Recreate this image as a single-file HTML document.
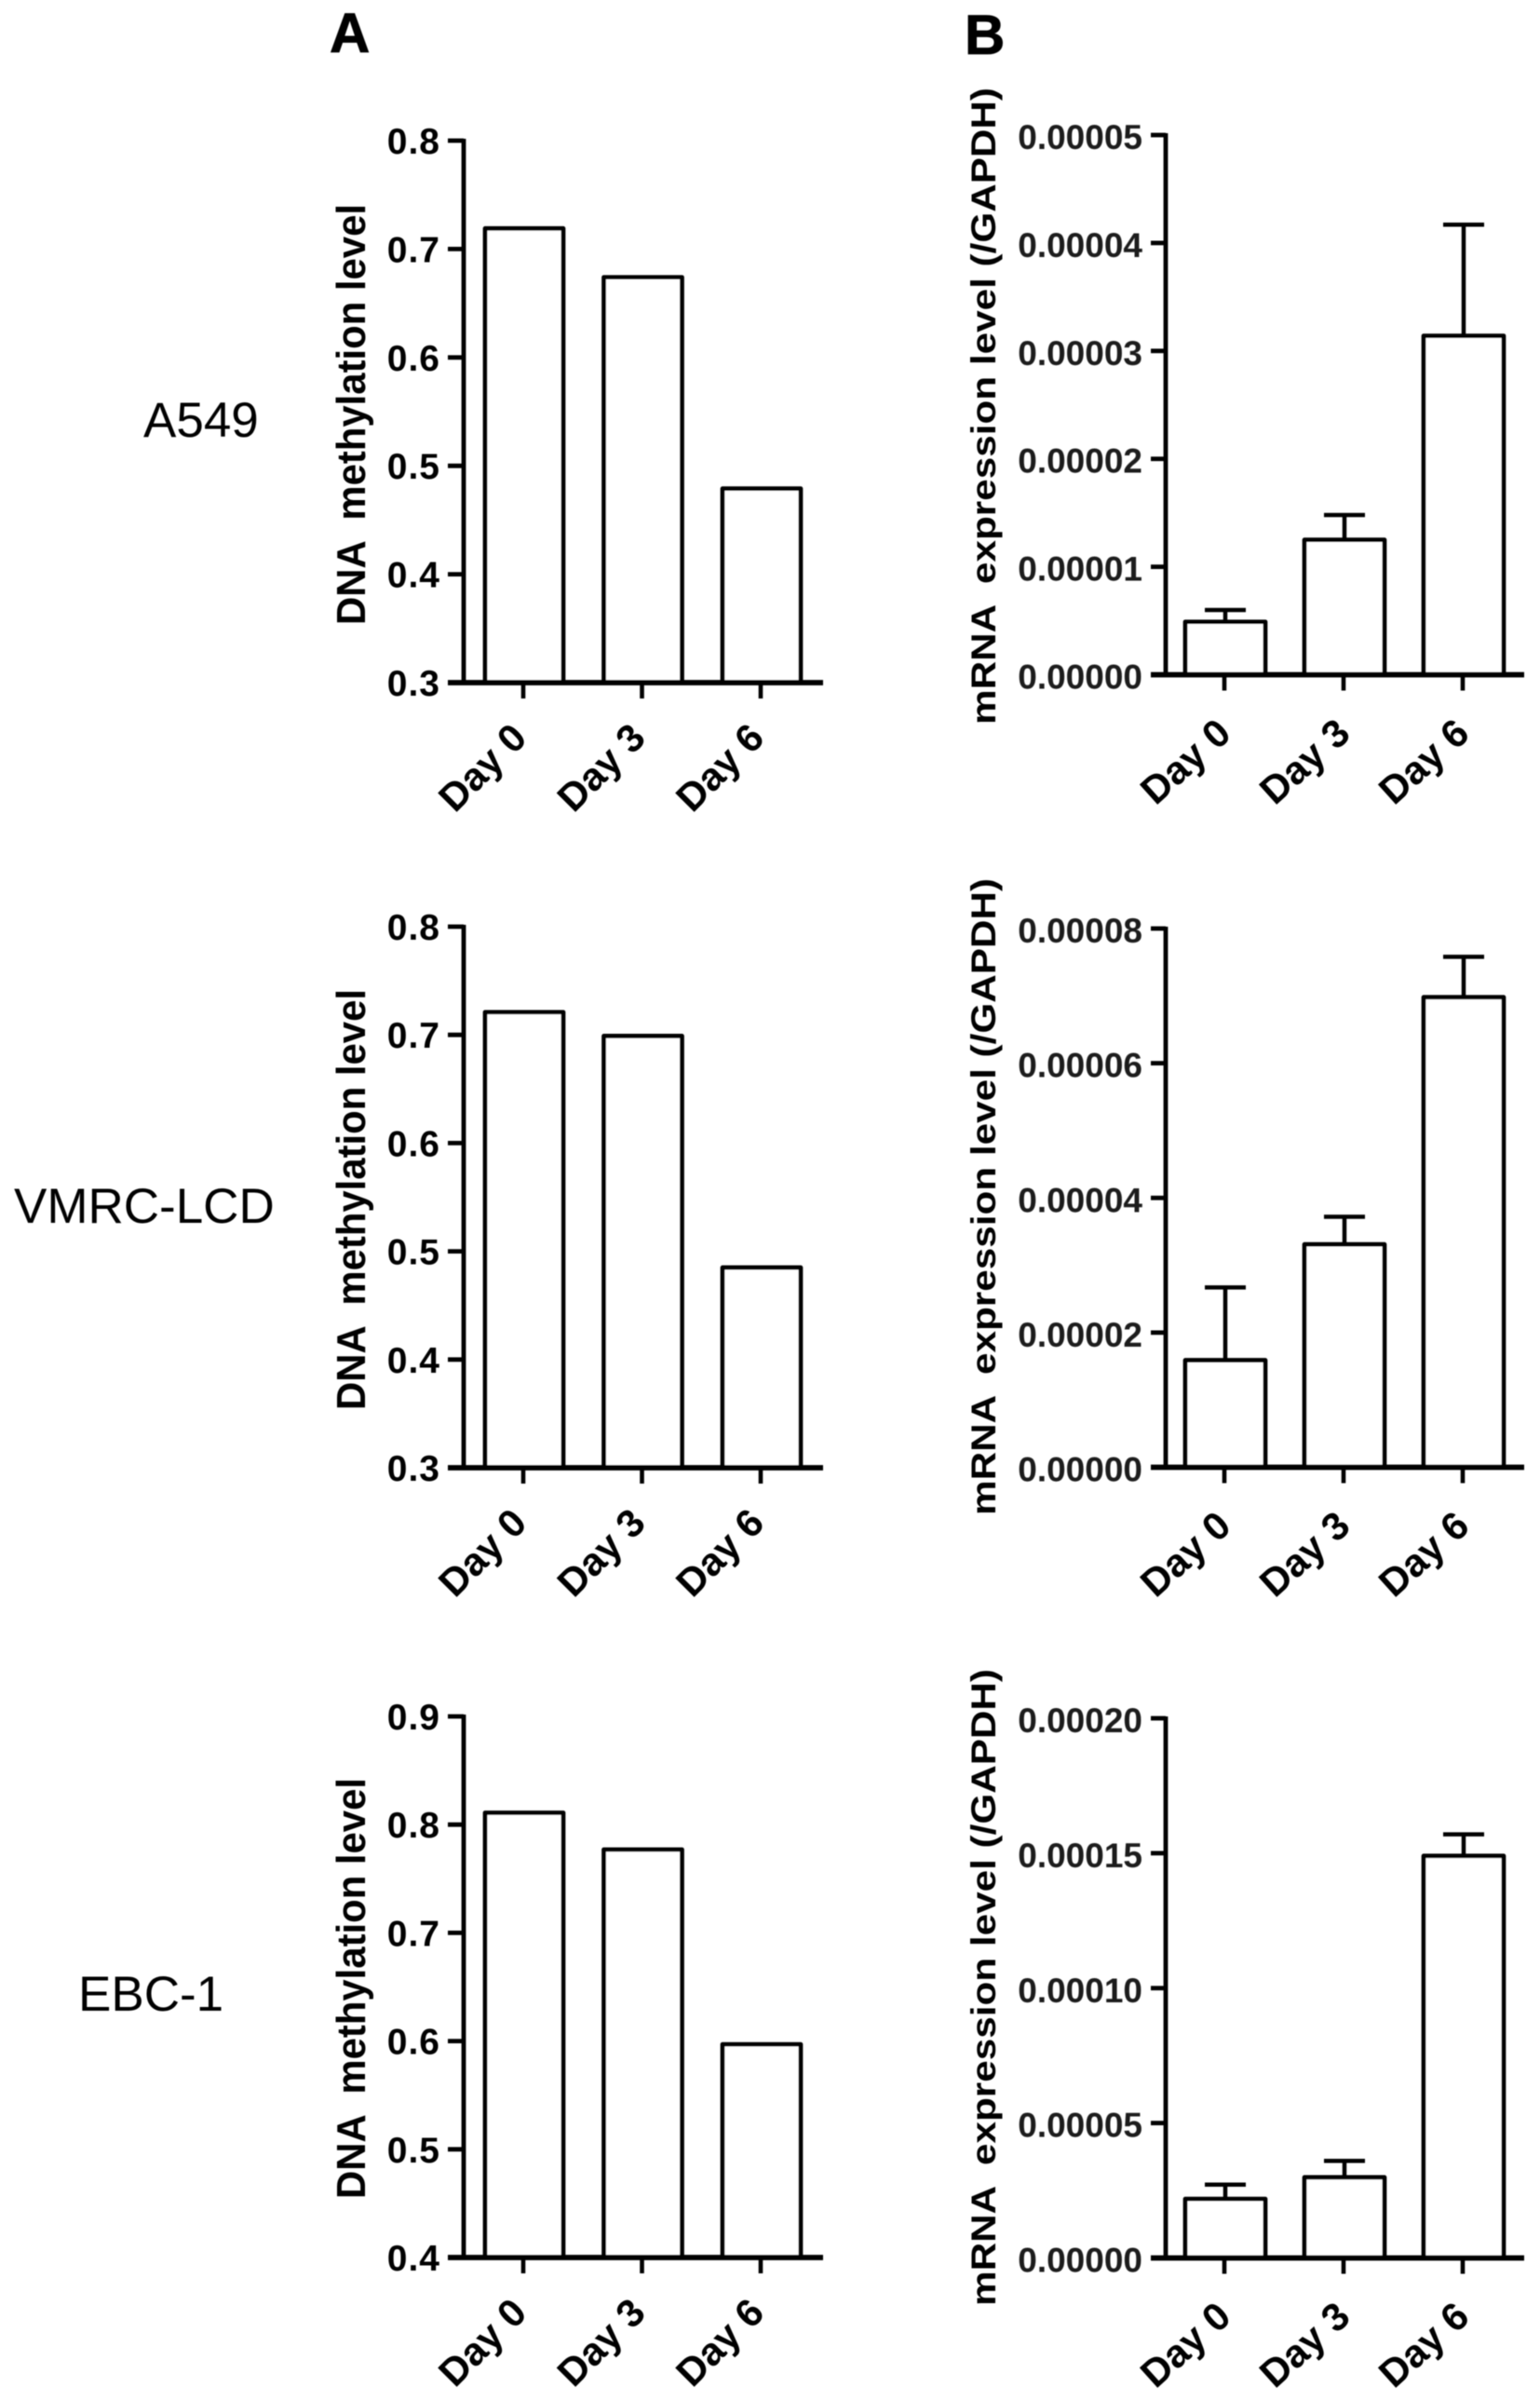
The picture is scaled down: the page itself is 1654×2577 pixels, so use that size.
<!DOCTYPE html>
<html lang="en">
<head>
<meta charset="utf-8">
<title>DNA methylation and mRNA expression</title>
<style>
  html, body { margin: 0; padding: 0; background: #fff; }
  svg { display: block; }
  text { font-family: "Liberation Sans", Arial, sans-serif; fill: #000; }
  .letter { font-weight: bold; font-size: 60px; fill: #000; stroke: #000; stroke-width: 0.8px; }
  .line-label { font-size: 53px; }
  .tick-a { font-weight: bold; font-size: 39px; letter-spacing: 1px; }
  .tick-b { font-weight: bold; font-size: 37px; fill: #1a1a1a; }
  .x-label { font-weight: bold; font-size: 42px; }
  .title-a { font-weight: bold; font-size: 44px; }
  .title-b { font-weight: bold; font-size: 37px; }
</style>
</head>
<body>
<svg id="figure" xmlns="http://www.w3.org/2000/svg" width="1654" height="2577" viewBox="0 0 1654 2577">
  <defs>
    <filter id="soft" filterUnits="userSpaceOnUse" x="0" y="0" width="1654" height="2577">
      <feGaussianBlur stdDeviation="0.55"></feGaussianBlur>
    </filter>
  </defs>
  <rect width="1654" height="2577" fill="#fff"></rect>
  <g id="root" filter="url(#soft)">
    <text class="letter" x="354" y="56">A</text>
    <text class="letter" x="1036" y="58">B</text>
    <text class="line-label" x="154" y="469">A549</text>
    <text class="line-label" x="15" y="1313">VMRC-LCD</text>
    <text class="line-label" x="84" y="2159">EBC-1</text>
  </g>
</svg>
<script>
// ---- Data ----
const categories = ['Day 0', 'Day 3', 'Day 6'];

const methylationTitle = 'DNA  methylation level';
const expressionTitle = 'mRNA  expression level (/GAPDH)';

const a549MethylationTicks = ['0.3', '0.4', '0.5', '0.6', '0.7', '0.8'];
const a549MethylationValues = [0.719, 0.674, 0.479];

const a549ExpressionTicks = ['0.00000', '0.00001', '0.00002', '0.00003', '0.00004', '0.00005'];
const a549ExpressionValues = [0.0000049, 0.0000125, 0.0000314];
const a549ExpressionErrorTops = [0.0000060, 0.0000148, 0.0000417];

const vmrcMethylationTicks = ['0.3', '0.4', '0.5', '0.6', '0.7', '0.8'];
const vmrcMethylationValues = [0.721, 0.699, 0.485];

const vmrcExpressionTicks = ['0.00000', '0.00002', '0.00004', '0.00006', '0.00008'];
const vmrcExpressionValues = [0.0000159, 0.0000331, 0.0000698];
const vmrcExpressionErrorTops = [0.0000267, 0.0000372, 0.0000758];

const ebcMethylationTicks = ['0.4', '0.5', '0.6', '0.7', '0.8', '0.9'];
const ebcMethylationValues = [0.811, 0.777, 0.597];

const ebcExpressionTicks = ['0.00000', '0.00005', '0.00010', '0.00015', '0.00020'];
const ebcExpressionValues = [0.0000219, 0.0000299, 0.000149];
const ebcExpressionErrorTops = [0.0000272, 0.0000360, 0.000157];

// ---- Drawing ----
const NS = 'http://www.w3.org/2000/svg';
const root = document.getElementById('root');

function styleA() {
  return { axisX: 498, tickStart: 481, axisEnd: 884, firstCenter: 563, step: 127.5, barWidth: 84,
           tickClass: 'tick-a', labelRight: 473, labelDy: 14, titleClass: 'title-a', titleX: 392,
           titleLength: 452, labelDx: -45, labelDyX: 91, labelAngle: -45 };
}
function styleB() {
  return { axisX: 1252, tickStart: 1236, axisEnd: 1637, firstCenter: 1316, step: 128, barWidth: 86,
           tickClass: 'tick-b', labelRight: 1227, labelDy: 15, titleClass: 'title-b', titleX: 1069,
           titleLength: 684, labelDx: -43, labelDyX: 93, labelAngle: -42 };
}

function drawPanel(name, st, top, bottom, titleY, title, ticks, values, errorTops) {
  const panel = document.createElementNS(NS, 'g');
  
  
  root.appendChild(panel);

  const yMin = parseFloat(ticks[0]);
  const yMax = parseFloat(ticks[ticks.length - 1]);
  const yScale = v => bottom - (v - yMin) / (yMax - yMin) * (bottom - top);
  const xScale = i => st.firstCenter + i * st.step;

  // bars
  values.forEach((v, i) => {
    const cx = xScale(i);
    const y = yScale(v);
    const bar = document.createElementNS(NS, 'path');
    
    
    bar.setAttribute('d', 'M' + (cx - st.barWidth / 2) + ' ' + bottom + 'V' + y + 'H' + (cx + st.barWidth / 2) + 'V' + bottom);
    bar.setAttribute('fill', '#fff');
    bar.setAttribute('stroke', '#000');
    bar.setAttribute('stroke-width', '4.7');
    bar.setAttribute('stroke-linejoin', 'round');
    panel.appendChild(bar);

    if (errorTops) {
      const yErr = yScale(errorTops[i]);
      const err = document.createElementNS(NS, 'path');
      
      
      err.setAttribute('d', 'M' + cx + ' ' + y + 'V' + yErr + 'M' + (cx - 22) + ' ' + yErr + 'H' + (cx + 22));
      err.setAttribute('fill', 'none');
      err.setAttribute('stroke', '#000');
      err.setAttribute('stroke-width', '4.5');
      panel.appendChild(err);
    }

    const tick = document.createElementNS(NS, 'line');
    
    
    tick.setAttribute('x1', cx - 1);
    tick.setAttribute('x2', cx - 1);
    tick.setAttribute('y1', bottom);
    tick.setAttribute('y2', bottom + 17);
    tick.setAttribute('stroke', '#000');
    tick.setAttribute('stroke-width', '4.6');
    panel.appendChild(tick);

    const label = document.createElementNS(NS, 'text');
    
    
    label.setAttribute('class', 'x-label');
    label.setAttribute('text-anchor', 'middle');
    label.setAttribute('dominant-baseline', 'central');
    label.setAttribute('transform', 'translate(' + (cx + st.labelDx) + ',' + (bottom + st.labelDyX) + ') rotate(' + st.labelAngle + ')');
    label.textContent = categories[i];
    panel.appendChild(label);
  });

  // y axis line
  const yAxis = document.createElementNS(NS, 'line');
  
  
  yAxis.setAttribute('x1', st.axisX);
  yAxis.setAttribute('x2', st.axisX);
  yAxis.setAttribute('y1', top - 2);
  yAxis.setAttribute('y2', bottom);
  yAxis.setAttribute('stroke', '#000');
  yAxis.setAttribute('stroke-width', '4.8');
  panel.appendChild(yAxis);

  // x axis line
  const xAxis = document.createElementNS(NS, 'line');
  
  
  xAxis.setAttribute('x1', st.tickStart);
  xAxis.setAttribute('x2', st.axisEnd);
  xAxis.setAttribute('y1', bottom);
  xAxis.setAttribute('y2', bottom);
  xAxis.setAttribute('stroke', '#000');
  xAxis.setAttribute('stroke-width', '5.8');
  panel.appendChild(xAxis);

  // y ticks and labels
  ticks.forEach(t => {
    const y = yScale(parseFloat(t));
    const tick = document.createElementNS(NS, 'line');
    
    
    tick.setAttribute('x1', st.tickStart);
    tick.setAttribute('x2', st.axisX);
    tick.setAttribute('y1', y);
    tick.setAttribute('y2', y);
    tick.setAttribute('stroke', '#000');
    tick.setAttribute('stroke-width', '4.8');
    panel.appendChild(tick);

    const label = document.createElementNS(NS, 'text');
    
    
    label.setAttribute('class', st.tickClass);
    label.setAttribute('text-anchor', 'end');
    label.setAttribute('x', st.labelRight);
    label.setAttribute('y', y + st.labelDy);
    label.textContent = t;
    panel.appendChild(label);
  });

  // y axis title
  const yTitle = document.createElementNS(NS, 'text');
  
  
  yTitle.setAttribute('class', st.titleClass);
  yTitle.setAttribute('text-anchor', 'middle');
  yTitle.setAttribute('xml:space', 'preserve');
  yTitle.setAttribute('style', 'white-space:pre');
  yTitle.setAttribute('textLength', st.titleLength);
  yTitle.setAttribute('lengthAdjust', 'spacingAndGlyphs');
  yTitle.setAttribute('transform', 'translate(' + st.titleX + ',' + titleY + ') rotate(-90)');
  yTitle.textContent = title;
  panel.appendChild(yTitle);
}

drawPanel('a549-methylation-chart', styleA(), 151, 733, 445, methylationTitle, a549MethylationTicks, a549MethylationValues, null);
drawPanel('a549-expression-chart', styleB(), 145, 724.5, 436, expressionTitle, a549ExpressionTicks, a549ExpressionValues, a549ExpressionErrorTops);
drawPanel('vmrc-lcd-methylation-chart', styleA(), 995, 1576, 1288, methylationTitle, vmrcMethylationTicks, vmrcMethylationValues, null);
drawPanel('vmrc-lcd-expression-chart', styleB(), 997, 1575.5, 1285, expressionTitle, vmrcExpressionTicks, vmrcExpressionValues, vmrcExpressionErrorTops);
drawPanel('ebc-1-methylation-chart', styleA(), 1843, 2424, 2135, methylationTitle, ebcMethylationTicks, ebcMethylationValues, null);
drawPanel('ebc-1-expression-chart', styleB(), 1845, 2424.5, 2134, expressionTitle, ebcExpressionTicks, ebcExpressionValues, ebcExpressionErrorTops);
</script>
</body>
</html>
